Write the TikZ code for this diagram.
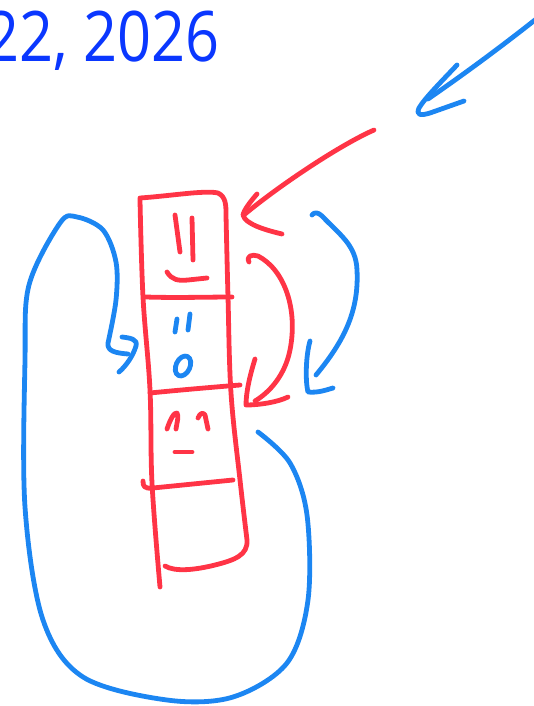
\documentclass[tikz,border=0pt]{standalone}
\usepackage{fontspec}
\setmainfont{Open Sans}
\definecolor{inkred}{RGB}{255,52,70}
\definecolor{inkblue}{RGB}{28,134,242}
\definecolor{dateblue}{RGB}{10,55,255}

\begin{document}
\begin{tikzpicture}[x=1pt, y=-1pt,
            redpen/.style={color=inkred, line width=4.8pt, line cap=round, line join=round},
            bluepen/.style={color=inkblue, line width=4.8pt, line cap=round, line join=round},
            datetext/.style={color=dateblue, font=\fontsize{64}{70}\selectfont, inner sep=0pt, xscale=0.93, yscale=1.09}
        ]
            \useasboundingbox (0,0) rectangle (534,706);

            % date (cut at the left edge)
            \node[datetext, anchor=base east] (date) at (220,62) {22, 2026};

            % tape: outline
            \draw[redpen] plot[smooth, tension=0.6] coordinates {(160,587) (152,483) (150,390) (143,297) (140,200)}
                -- (140,198) .. controls (170,196) and (205,190) .. (218,193)
                .. controls (226,197) and (226,205) .. (226,215)
                plot[smooth, tension=0.6] coordinates {(226,215) (228,297) (231,393) (240,480) (247,540)}
                .. controls (248,555) and (235,560) .. (215,565)
                .. controls (195,570) and (175,572) .. (165,566);

            % tape: dividers
            \draw[redpen] (146,297) .. controls (175,298) and (210,297) .. (232,297);
            \draw[redpen] (150,393) .. controls (180,390) and (215,387) .. (240,385);
            \draw[redpen] (143,481) .. controls (143,486) and (144,489) .. (153,488) -- (233,480);

            % cell 1
            \draw[redpen] (175,215) -- (180,252);
            \draw[redpen] (192,218) -- (193,260);
            \draw[redpen] (167,272) .. controls (172,280) and (178,281) .. (188,280) -- (207,278);

            % cell 2
            \draw[bluepen] (177,319) -- (175,332);
            \draw[bluepen] (190,314) -- (188,330);
            \draw[bluepen, rotate around={-25:(183,366)}] (183,366) ellipse (7 and 10.5);

            % cell 3
            \draw[redpen] (167,429) .. controls (170,420) and (174,412) .. (177,413) .. controls (179,416) and (177,422) .. (176,429);
            \draw[redpen] (198,418) .. controls (200,413) and (203,412) .. (205,415) -- (208,429);
            \draw[redpen] (175,452) -- (192,452);

            % red arrow into cell 1
            \draw[redpen] (374,130) .. controls (340,145) and (280,185) .. (245,214);
            \draw[redpen] (257,194) .. controls (250,202) and (244,210) .. (243,215)
                .. controls (245,224) and (265,230) .. (282,234);

            % red arrow from cell 1 to cell 3
            \draw[redpen] (249,262) .. controls (246,256) and (252,254) .. (258,256)
                .. controls (285,270) and (298,310) .. (290,350)
                .. controls (285,375) and (270,392) .. (255,401);
            \draw[redpen] (255,359) .. controls (250,375) and (246,392) .. (246,405)
                .. controls (260,405) and (278,402) .. (288,397);

            % blue arrow from cell 1 to cell 3
            \draw[bluepen] (312,215) .. controls (314,212) and (318,212) .. (322,216)
                .. controls (340,235) and (356,245) .. (357,270)
                .. controls (359,310) and (345,340) .. (316,375);
            \draw[bluepen] (310,341) .. controls (306,355) and (305,380) .. (308,392)
                .. controls (318,393) and (326,390) .. (333,388);

            % big blue loop back into cell 2
            \draw[bluepen] plot[smooth, tension=0.55] coordinates {(258,432) (290,463) (307,515) (308,600) (287,663) (233,697) (167,700) (83,677) (43,620) (25,507) (25,360) (29,285) (60,223) (77,217) (103,230) (116,262) (116,300) (108,343)}
                .. controls (107,351) and (115,353) .. (128,354);
            \draw[bluepen] (122,337) .. controls (130,338) and (138,339) .. (136,346)
                .. controls (133,356) and (126,366) .. (119,372);

            % blue arrow from the top right
            \draw[bluepen] (545,12) .. controls (510,40) and (470,70) .. (428,99);
            \draw[bluepen] (457,65) .. controls (440,83) and (425,98) .. (419,108)
                .. controls (416,115) and (420,116) .. (430,113) -- (464,101);

        \end{tikzpicture}
\end{document}
